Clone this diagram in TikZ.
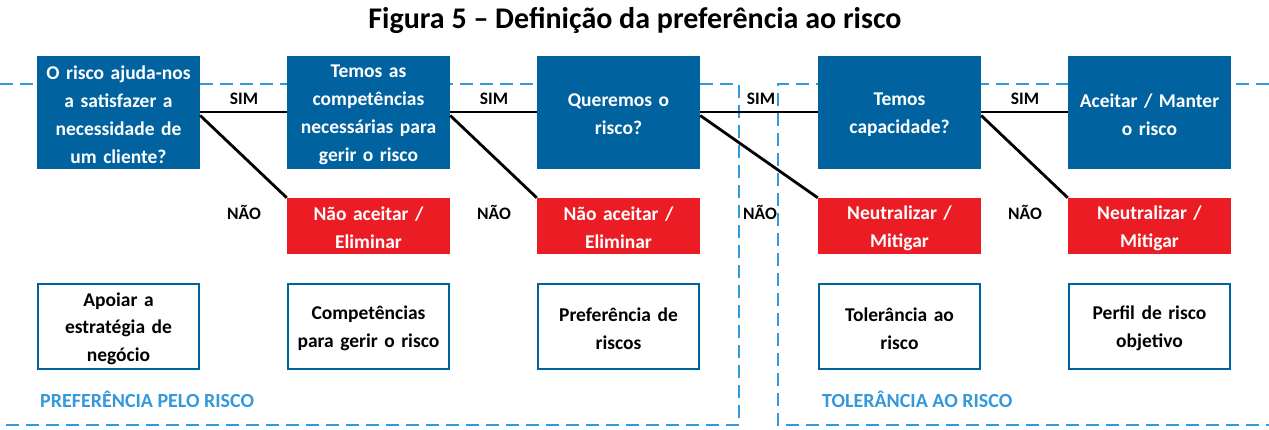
\documentclass[tikz,border=0pt]{standalone}
\usepackage{fontspec}
\setmainfont{Carlito}
\definecolor{boxblue}{RGB}{0,99,160}
\definecolor{boxred}{RGB}{236,28,36}
\definecolor{lineblue}{RGB}{52,152,219}
\newcommand{\lowertext}{\endgraf\vspace*{-4pt}}
\begin{document}
\begin{tikzpicture}[x=1pt,y=-1pt,
  lower/.style={execute at end node={\lowertext}},
  qbox/.style={lower,fill=boxblue,minimum width=163pt,minimum height=113pt,text width=160pt,align=center,inner sep=0pt,text=white,font=\bfseries\fontsize{19.5}{28}\selectfont},
  rbox/.style={lower,fill=boxred,minimum width=163pt,minimum height=56pt,text width=160pt,align=center,inner sep=0pt,text=white,font=\bfseries\fontsize{19.5}{28}\selectfont},
  wbox/.style={lower,draw=boxblue,line width=2.5pt,fill=white,minimum width=161pt,minimum height=85pt,text width=156pt,align=center,inner sep=0pt,text=black,font=\bfseries\fontsize{19.5}{27.5}\selectfont},
  conn/.style={line width=2.8pt,black},
  zone/.style={lineblue,line width=2.6pt,dash pattern=on 13pt off 7pt},
  lbl/.style={font=\bfseries\fontsize{17.5}{20}\selectfont,text=black,inner sep=0pt},
  zlbl/.style={font=\bfseries\fontsize{20}{22}\selectfont,text=lineblue,inner sep=0pt,anchor=west}
]
\useasboundingbox (0,0) rectangle (1269,429);
% zones
\coordinate (za) at (0,84);
\coordinate (zb) at (739,84);
\coordinate (zc) at (739,425);
\coordinate (zd) at (0,425);
\coordinate (ze) at (1269,84);
\coordinate (zf) at (778,84);
\coordinate (zg) at (778,425);
\coordinate (zh) at (1269,425);
\draw[zone] (za) -- (zb) -- (zc) -- (zd);
\draw[zone] (ze) -- (zf) -- (zg) -- (zh);
% title
\node[font=\bfseries\fontsize{30}{34}\selectfont,inner sep=0pt] (title) at (635,20) {Figura 5 – Definição da preferência ao risco};
% question boxes
\node[qbox] (b1) at (118.5,112.5) {O risco ajuda-nos\\a satisfazer a\\necessidade de\\um cliente?};
\node[qbox] (b2) at (368.5,112.5) {Temos as\\competências\\necessárias para\\gerir o risco};
\node[qbox] (b3) at (618.5,112.5) {Queremos o\\risco?};
\node[qbox] (b4) at (899.5,112.5) {Temos\\capacidade?};
\node[qbox] (b5) at (1149.5,112.5) {Aceitar / Manter\\o risco};
% red boxes
\node[rbox] (r2) at (368.5,226) {Não aceitar /\\Eliminar};
\node[rbox] (r3) at (618.5,226) {Não aceitar /\\Eliminar};
\node[rbox] (r4) at (899.5,226) {Neutralizar /\\Mitigar};
\node[rbox] (r5) at (1149.5,226) {Neutralizar /\\Mitigar};
% white boxes
\node[wbox] (w1) at (118.5,326.5) {Apoiar a\\estratégia de\\negócio};
\node[wbox] (w2) at (368.5,326.5) {Competências\\para gerir o risco};
\node[wbox] (w3) at (618.5,326.5) {Preferência de\\riscos};
\node[wbox] (w4) at (899.5,326.5) {Tolerância ao\\risco};
\node[wbox] (w5) at (1149.5,326.5) {Perfil de risco\\objetivo};
% connectors
\draw[conn] ([yshift=0.5pt]b1.east) -- ([yshift=0.5pt]b2.west);
\draw[conn] ([yshift=0.5pt]b2.east) -- ([yshift=0.5pt]b3.west);
\draw[conn] ([yshift=0.5pt]b3.east) -- ([yshift=0.5pt]b4.west);
\draw[conn] ([yshift=0.5pt]b4.east) -- ([yshift=0.5pt]b5.west);
\draw[conn] ([yshift=-3pt]b1.east) -- (r2.north west);
\draw[conn] ([yshift=-3pt]b2.east) -- (r3.north west);
\draw[conn] ([yshift=-3pt]b3.east) -- (r4.north west);
\draw[conn] ([yshift=-3pt]b4.east) -- (r5.north west);
% labels
\node[lbl] (s1) at (244,99) {SIM};
\node[lbl] (s2) at (494,99) {SIM};
\node[lbl] (s3) at (761,99) {SIM};
\node[lbl] (s4) at (1025,99) {SIM};
\node[lbl] (n1) at (244,212) {NÃO};
\node[lbl] (n2) at (494,212) {NÃO};
\node[lbl] (n3) at (760,212) {NÃO};
\node[lbl] (n4) at (1025,212) {NÃO};
\node[zlbl] (zl1) at (40,399) {PREFERÊNCIA PELO RISCO};
\node[zlbl] (zl2) at (822,399) {TOLERÂNCIA AO RISCO};
\end{tikzpicture}
\end{document}
